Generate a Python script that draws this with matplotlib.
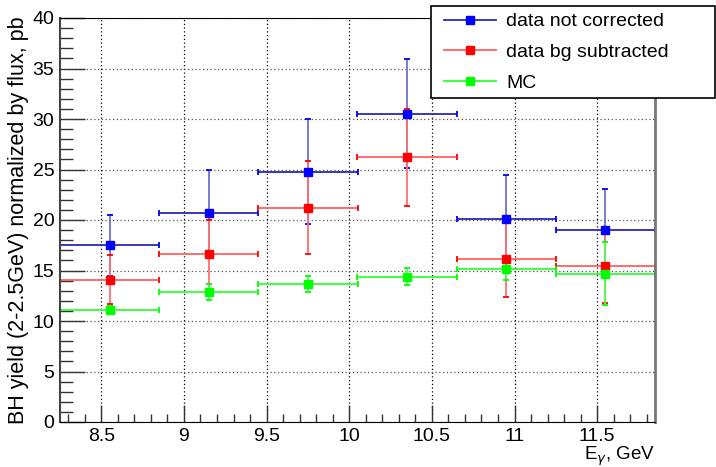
import numpy as np
import matplotlib
matplotlib.use("Agg")
import matplotlib.pyplot as plt
from matplotlib.lines import Line2D
from matplotlib.patches import Rectangle
from matplotlib.ticker import MultipleLocator

plt.rcParams['font.family'] = ['Liberation Sans', 'DejaVu Sans']

# bin centres (E_gamma, GeV) and half widths
e_centers = [8.55, 9.15, 9.75, 10.35, 10.95, 11.55]
e_halfwidth = [0.3, 0.3, 0.3, 0.3, 0.3, 0.3]

# data not corrected
raw_y = [17.5, 20.7, 24.8, 30.5, 20.1, 19.0]
raw_err = [3.0, 4.3, 5.2, 5.4, 4.4, 4.1]

# data bg subtracted
sub_y = [14.1, 16.6, 21.2, 26.2, 16.1, 15.4]
sub_err = [2.45, 3.4, 4.6, 4.8, 3.7, 3.6]

# MC
mc_y = [11.1, 12.9, 13.7, 14.4, 15.1, 14.7]
mc_err = [0.35, 0.8, 0.8, 0.8, 1.0, 3.1]

labels = ['data not corrected', 'data bg subtracted', 'MC']

fig = plt.figure(figsize=(7.16, 4.67), dpi=100)
ax = fig.add_axes([60/716, 45/467, 595/716, 404/467])

series = [
    (raw_y, raw_err, '#0000ff', '#2a2ab4', '#7070d0'),
    (sub_y, sub_err, '#ff0000', '#ff6060', '#ff7070'),
    (mc_y, mc_err, '#00ff00', '#30ff30', '#50ff50'),
]
for yv, ye, mcol, hcol, vcol in series:
    cont = ax.errorbar(e_centers, yv, xerr=e_halfwidth, yerr=ye, fmt='s',
                       color=mcol, markersize=6, capsize=2, elinewidth=1.3,
                       capthick=1.3)
    cont[2][0].set_color(hcol)
    cont[2][1].set_color(vcol)
    cont[1][0].set_color(hcol)
    cont[1][1].set_color(hcol)
    for c in cont[1][2:]:
        c.set_color(vcol)

ax.set_xlim(8.25, 11.85)
ax.set_ylim(0, 40)
ax.xaxis.set_major_locator(MultipleLocator(0.5))
ax.xaxis.set_minor_locator(MultipleLocator(0.1))
ax.yaxis.set_major_locator(MultipleLocator(5))
ax.yaxis.set_minor_locator(MultipleLocator(1))
ax.set_xticks([8.5, 9, 9.5, 10, 10.5, 11, 11.5])
ax.set_xticklabels(['8.5', '9', '9.5', '10', '10.5', '11', '11.5'])

ax.tick_params(axis='both', which='both', direction='in', top=False, right=False,
               labelsize=14, color='#333333')
ax.tick_params(axis='x', which='major', length=12, width=1, pad=4)
ax.tick_params(axis='x', which='minor', length=6, width=1)
ax.tick_params(axis='y', which='major', length=18, width=1, pad=4)
ax.tick_params(axis='y', which='minor', length=9, width=1)

ax.grid(True, which='major', axis='x', color='black', linestyle=(0, (1, 2)), linewidth=0.9)
ax.grid(True, which='major', axis='y', color='#555555', linestyle=(0, (1, 2)), linewidth=0.9)
ax.set_axisbelow(True)

ax.spines['top'].set_color('black')
ax.spines['bottom'].set_color('black')
ax.spines['left'].set_color('#444444')
ax.spines['left'].set_linewidth(1.5)
ax.spines['right'].set_color('#777777')
ax.spines['right'].set_linewidth(2)

ax.set_ylabel('BH yield (2-2.5GeV) normalized by flux, pb', fontsize=15.5)
ax.yaxis.set_label_coords(-31/595, 0.5)
ax.set_xlabel(r'E$_{\gamma}$, GeV', fontsize=13.5, loc='right')
ax.xaxis.set_label_coords(1.0, -23/404)

# legend box
fig.patches.append(Rectangle((431/716, 1 - 98/467), 284/716, 92/467,
                             transform=fig.transFigure, facecolor='white',
                             edgecolor='black', linewidth=1.2, zorder=2))
handles = [Line2D([], [], color=s[3], marker='s', markersize=6,
                  markerfacecolor=s[2], markeredgecolor=s[2], linewidth=1.3)
           for s in series]
fig.legend(handles, labels, loc='upper left', bbox_to_anchor=(434/716, 1 - 3/467),
           bbox_transform=fig.transFigure, frameon=False, fontsize=14,
           handlelength=2.7, labelspacing=0.68, handletextpad=0.5, borderpad=0.0)

fig.savefig('out.png', dpi=100)
